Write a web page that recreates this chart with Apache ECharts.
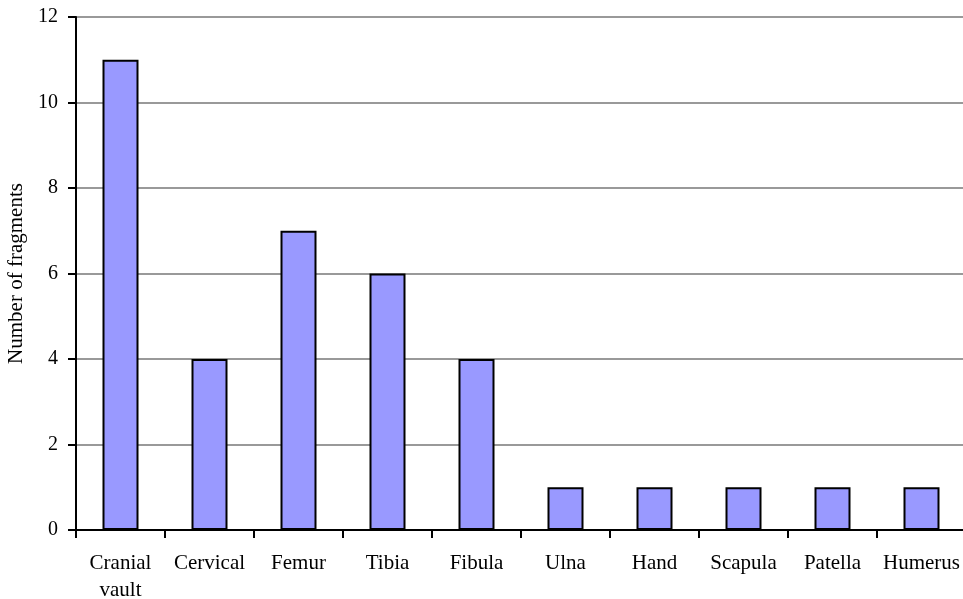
<!DOCTYPE html>
<html>
<head>
<meta charset="utf-8">
<script src="https://cdn.jsdelivr.net/npm/echarts@6/dist/echarts.min.js"></script>
<style>
  html, body { margin: 0; padding: 0; background: #fff; }
  #chart { width: 963px; height: 599px; }
</style>
</head>
<body>
<div id="chart"></div>
<script>
  // bone elements and fragment counts
  const categories = ['Cranial\nvault', 'Cervical', 'Femur', 'Tibia', 'Fibula', 'Ulna', 'Hand', 'Scapula', 'Patella', 'Humerus'];
  const fragments = [11, 4, 7, 6, 4, 1, 1, 1, 1, 1];
  const yTicks = [0, 2, 4, 6, 8, 10, 12];

  const chart = echarts.init(document.getElementById('chart'));
  const font = 'Liberation Serif, Times New Roman, serif';

  chart.setOption({
    animation: false,
    grid: { left: 76, top: 17, width: 890, height: 513, outerBoundsMode: 'none', containLabel: false },
    xAxis: {
      type: 'category',
      data: categories,
      axisLine: { lineStyle: { color: '#000', width: 2 } },
      axisTick: { show: true, length: 8, lineStyle: { color: '#000', width: 2 } },
      axisLabel: { color: '#000', fontFamily: font, fontSize: 21, margin: 20, lineHeight: 27, interval: 0 }
    },
    yAxis: {
      type: 'value',
      min: yTicks[0],
      max: yTicks[yTicks.length - 1],
      interval: 2,
      name: 'Number of fragments',
      nameLocation: 'middle',
      nameGap: 46,
      nameTextStyle: { color: '#000', fontFamily: font, fontSize: 21 },
      axisLine: { show: true, lineStyle: { color: '#000', width: 2 } },
      axisTick: { show: true, length: 8, lineStyle: { color: '#000', width: 2 } },
      axisLabel: { color: '#000', fontFamily: font, fontSize: 20, margin: 18 },
      splitLine: { lineStyle: { color: '#999', width: 2 } }
    },
    series: [{
      type: 'bar',
      data: fragments,
      barWidth: 36,
      itemStyle: { color: '#9999FF', borderColor: '#000', borderWidth: 2 }
    }]
  });
</script>
</body>
</html>
